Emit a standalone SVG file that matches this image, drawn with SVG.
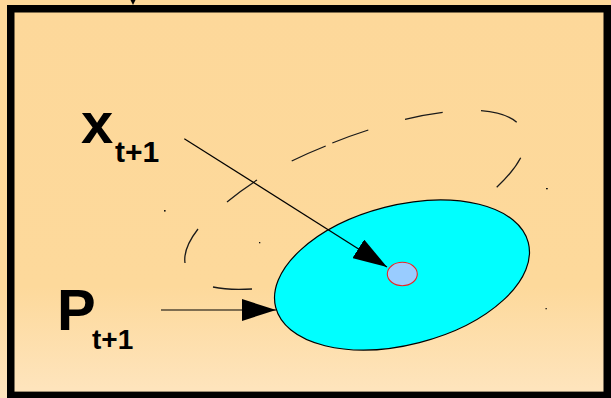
<svg xmlns="http://www.w3.org/2000/svg" width="611" height="398" viewBox="0 0 611 398">
  <defs>
    <linearGradient id="bg" gradientUnits="userSpaceOnUse" x1="0" y1="0" x2="0" y2="398">
      <stop offset="0" stop-color="#fdd89a"/>
      <stop offset="0.72" stop-color="#fdd99b"/>
      <stop offset="1" stop-color="#fee5bf"/>
    </linearGradient>
    <marker id="ah" markerUnits="userSpaceOnUse" markerWidth="34" markerHeight="22" refX="34" refY="11" orient="auto" viewBox="0 0 34 22">
      <path d="M0,0 L34,11 L0,22 z" fill="#000"/>
    </marker>
    <style>
      .lbl { font-family: "Liberation Sans", Arial, sans-serif; font-weight: bold; fill: #000; }
      .dash { fill: none; stroke: #1a1a1a; stroke-width: 1.3; stroke-linecap: butt; }
      .conn { fill: none; stroke: #000; stroke-width: 1.2; marker-end: url(#ah); }
      .dot { fill: #111; }
    </style>
  </defs>

  <rect x="0" y="0" width="611" height="398" fill="url(#bg)"/>

  <g id="frame">
    <polygon points="130.5,0 135.5,0 133,5" fill="#000"/>
    <line x1="14" y1="391.5" x2="604" y2="391.5" stroke="#9a8a70" stroke-width="1"/>
    <rect x="10.75" y="8.75" width="596.5" height="387" fill="none" stroke="#000" stroke-width="7.5"/>
  </g>

  <g id="prev-estimate">
    <path class="dash" d="M185,263 A180.6 62.1 -22.5 0 1 198,229"/>
    <path class="dash" d="M227,202 A180.6 62.1 -22.5 0 1 257,180"/>
    <path class="dash" d="M291.7,161 A180.6 62.1 -22.5 0 1 325.7,146"/>
    <path class="dash" d="M332.3,143 A180.6 62.1 -22.5 0 1 368.3,130"/>
    <path class="dash" d="M405,119.3 A180.6 62.1 -22.5 0 1 442.7,112.3"/>
    <path class="dash" d="M481,110.7 A180.6 62.1 -22.5 0 1 516.7,122.3"/>
    <path class="dash" d="M520.7,157.7 A180.6 62.1 -22.5 0 1 496.7,187.3"/>
    <path class="dash" d="M252,289 A180.6 62.1 -22.5 0 1 213,287"/>
    <rect class="dot" x="164" y="210" width="1.6" height="1.6"/>
    <rect class="dot" x="259" y="242" width="1.3" height="1.3"/>
    <rect class="dot" x="546" y="188" width="1.8" height="1.3"/>
    <rect class="dot" x="545.5" y="308" width="1.3" height="1.3"/>
  </g>

  <g id="covariance">
    <ellipse cx="402" cy="275" rx="130.4" ry="69.8" transform="rotate(-14.4 402 275)" fill="#00ffff" stroke="#000" stroke-width="1.2"/>
  </g>

  <g id="state-point">
    <ellipse cx="402.3" cy="274" rx="15" ry="11.7" fill="#99ccff" stroke="#ee2222" stroke-width="1.1"/>
  </g>

  <g id="label-x">
    <text class="lbl" x="81" y="143" font-size="58">x</text>
    <text class="lbl" x="115" y="162" font-size="30">t+1</text>
  </g>

  <g id="label-p">
    <text class="lbl" x="57" y="330" font-size="58">P</text>
    <text class="lbl" x="92" y="349" font-size="28">t+1</text>
  </g>

  <g id="connectors">
    <line class="conn" x1="184.3" y1="138.7" x2="387" y2="267"/>
    <line class="conn" x1="161" y1="310" x2="276" y2="310"/>
  </g>
</svg>
